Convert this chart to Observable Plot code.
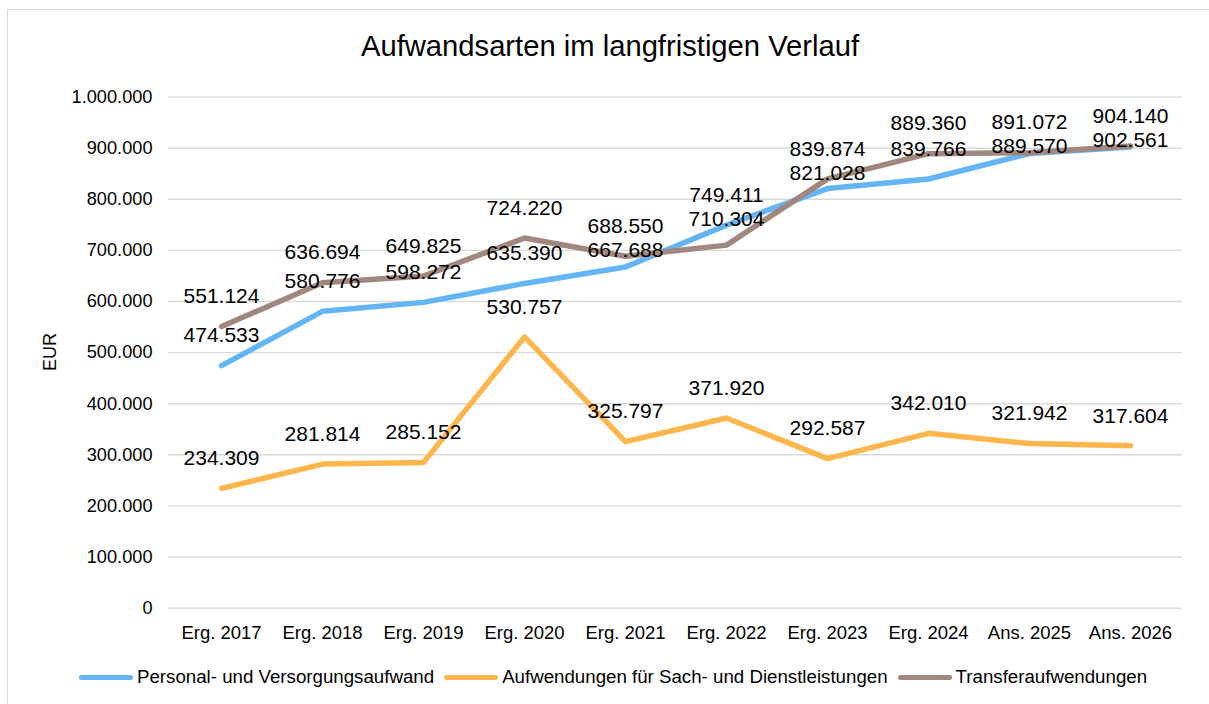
<!DOCTYPE html>
<html>
<head>
<meta charset="utf-8">
<script src="https://cdn.jsdelivr.net/npm/d3@7"></script>
<script src="https://cdn.jsdelivr.net/npm/@observablehq/plot@0.6"></script>
<style>
  html, body { margin: 0; padding: 0; background: #fff; }
  #wrap { position: relative; width: 1209px; height: 704px; overflow: hidden; font-family: "Liberation Sans", Arial, sans-serif; color: #000; }
  #border { position: absolute; left: 7px; top: 9px; width: 1220px; height: 720px; border: 1px solid #d9d9d9; box-sizing: border-box; }
  #title { position: absolute; left: 0; width: 1220px; top: 32px; text-align: center; font-size: 29.2px; line-height: 29px; white-space: nowrap; }
  #ylabel { position: absolute; left: 50px; top: 352px; font-size: 18px; line-height: 18px; transform: translate(-50%, -50%) rotate(-90deg); white-space: nowrap; }
  #chart { position: absolute; left: 0; top: 80px; }
  #legend { position: absolute; left: 79px; top: 668px; display: flex; align-items: center; font-size: 18.7px; line-height: 18.7px; white-space: nowrap; }
  .item { display: flex; align-items: center; margin-right: 10px; }
  .sw { width: 54px; height: 5px; border-radius: 3px; margin-right: 4px; }
</style>
</head>
<body>
<div id="wrap">
  <div id="border"></div>
  <div id="title">Aufwandsarten im langfristigen Verlauf</div>
  <div id="ylabel">EUR</div>
  <div id="chart"></div>
  <div id="legend"></div>
</div>
<script>
const categories = ["Erg. 2017", "Erg. 2018", "Erg. 2019", "Erg. 2020", "Erg. 2021", "Erg. 2022", "Erg. 2023", "Erg. 2024", "Ans. 2025", "Ans. 2026"];
const seriesNames = ["Personal- und Versorgungsaufwand", "Aufwendungen für Sach- und Dienstleistungen", "Transferaufwendungen"];
const personal = [474533, 580776, 598272, 635390, 667688, 749411, 821028, 839766, 889570, 902561];
const sach = [234309, 281814, 285152, 530757, 325797, 371920, 292587, 342010, 321942, 317604];
const transfer = [551124, 636694, 649825, 724220, 688550, 710304, 839874, 889360, 891072, 904140];
const colors = ["#64B5F6", "#FFB74D", "#A1887F"];
const yTicks = [0, 100000, 200000, 300000, 400000, 500000, 600000, 700000, 800000, 900000, 1000000];

const de = d3.formatLocale({decimal: ",", thousands: ".", grouping: [3], currency: ["", " €"]});
const fmt = de.format(",d");

const seriesValues = [personal, sach, transfer];
const rows = [];
seriesValues.forEach((vals, s) => vals.forEach((v, i) => rows.push({cat: categories[i], series: seriesNames[s], value: v, idx: i, s})));

const W = 1209, H = 575, mT = 16.6, mB = 47.4, mL = 168, mR = 27;
const pxPerUnit = (H - mT - mB) / 1000000;
const minSep = 24;

// data labels: lower label of the close pair (Personal/Transfer) is pushed down to avoid overlap
const labels = rows.map(d => ({...d, labelValue: d.value}));
categories.forEach((c, i) => {
  const a = labels.find(d => d.idx === i && d.s === 0);
  const b = labels.find(d => d.idx === i && d.s === 2);
  const hi = a.value >= b.value ? a : b;
  const lo = hi === a ? b : a;
  if ((hi.value - lo.value) * pxPerUnit < minSep) lo.labelValue = hi.value - minSep / pxPerUnit;
});

const chart = Plot.plot({
  width: W, height: H,
  marginTop: mT, marginBottom: mB, marginLeft: mL, marginRight: mR,
  style: {fontFamily: '"Liberation Sans", Arial, sans-serif', fontSize: "18px", color: "#000", background: "transparent"},
  x: {type: "point", domain: categories, padding: 0.5, label: null},
  y: {domain: [0, 1000000], label: null},
  color: {domain: seriesNames, range: colors},
  marks: [
    Plot.gridY(yTicks, {stroke: "#d9d9d9", strokeOpacity: 1, strokeWidth: 1.4}),
    Plot.axisY(yTicks, {tickSize: 0, tickPadding: 16, tickFormat: fmt, fill: "#000", fontSize: 18.2}),
    Plot.axisX(categories, {tickSize: 0, tickPadding: 18, fill: "#000", fontSize: 18.5}),
    Plot.line(rows, {x: "cat", y: "value", z: "series", stroke: "series", strokeWidth: 5.5, strokeLinecap: "round", strokeLinejoin: "round"}),
    Plot.text(labels, {x: "cat", y: "labelValue", text: d => fmt(d.value), dy: -30, fontSize: 21, fill: "#000"})
  ]
});
document.getElementById("chart").appendChild(chart);

const legend = document.getElementById("legend");
seriesNames.forEach((name, i) => {
  const item = document.createElement("div");
  item.className = "item";
  const sw = document.createElement("div");
  sw.className = "sw";
  sw.style.background = colors[i];
  const t = document.createElement("span");
  t.textContent = name;
  item.appendChild(sw);
  item.appendChild(t);
  legend.appendChild(item);
});
</script>
</body>
</html>
